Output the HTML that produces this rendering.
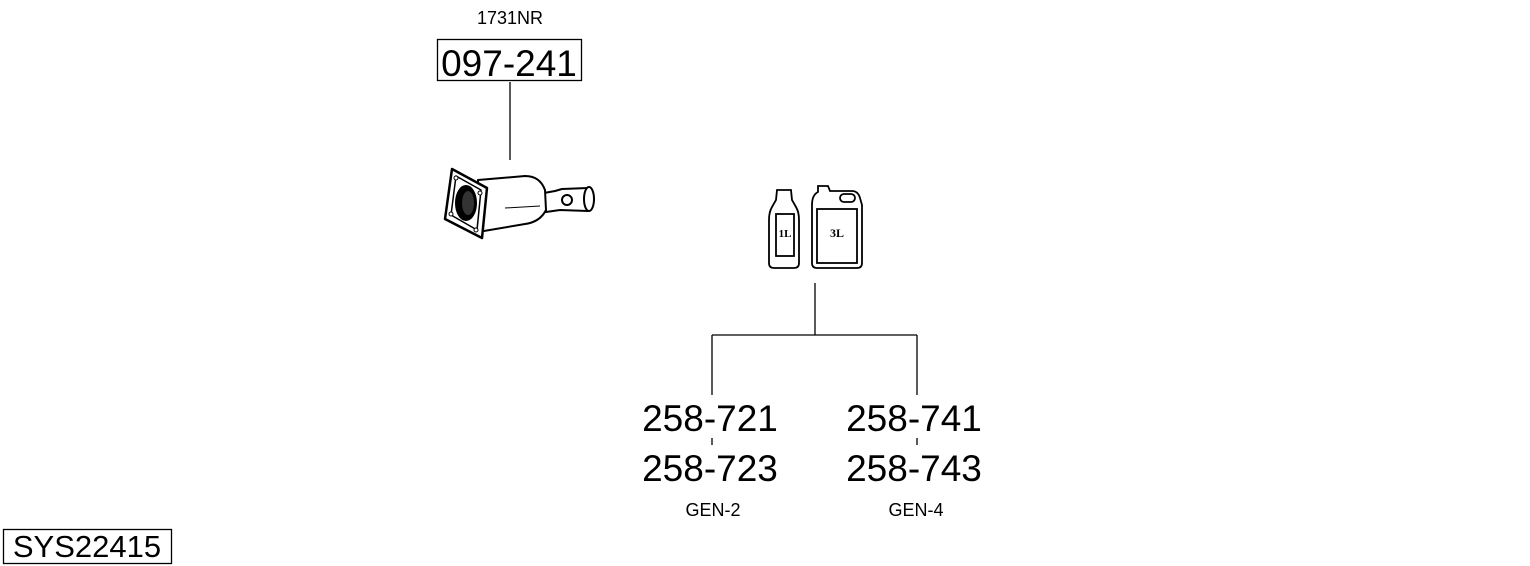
<!DOCTYPE html>
<html><head><style>body{margin:0;background:#fff}svg{display:block}</style></head><body>
<svg width="1530" height="566" viewBox="0 0 1530 566" xmlns="http://www.w3.org/2000/svg" font-family="Liberation Sans, sans-serif">
<text x="510" y="24" font-size="18" text-anchor="middle">1731NR</text>
<rect x="437.5" y="39.5" width="144" height="41" fill="none" stroke="#000" stroke-width="1.3"/>
<text x="509" y="76" font-size="37" text-anchor="middle">097-241</text>
<line x1="510" y1="82" x2="510" y2="160" stroke="#000" stroke-width="1.3"/>
<!-- DPF -->
<g stroke="#000" stroke-width="2" fill="#fff" stroke-linejoin="round">
<path d="M544 193 L555 191 L562 189 L588 188 L592 192 L594 200 L592 208 L588 211 L560 210 L546 212 Z"/>
<ellipse cx="589" cy="199" rx="5" ry="12"/>
<path d="M478 180 L525 176 Q540 176 545 190 L546 210 Q540 222 525 224 L478 232 Z"/>
<circle cx="567" cy="200" r="5"/>
<path d="M452 169 L487 188 L482 238 L445 219 Z" stroke-width="2.5"/>
<path d="M456 176 L481 190 L477 230 L451 215 Z" stroke-width="1.5"/>
<ellipse cx="466" cy="203" rx="10" ry="17" fill="#000"/>
<ellipse cx="468" cy="203" rx="6" ry="12" fill="#333" stroke="none"/>
<circle cx="456" cy="178" r="2" stroke-width="1"/>
<circle cx="480" cy="193" r="2" stroke-width="1"/>
<circle cx="451" cy="214" r="2" stroke-width="1"/>
<circle cx="476" cy="230" r="2" stroke-width="1"/>
<line x1="505" y1="208" x2="540" y2="206" stroke-width="1"/>
</g>
<!-- bottles -->
<g stroke="#000" stroke-width="1.8" fill="#fff">
<path d="M777 190 L791 190 L792 200 L796 207 Q799 212 799 220 L799 263 Q799 268 794 268 L774 268 Q769 268 769 263 L769 220 Q769 212 772 207 L776 200 Z"/>
<rect x="776" y="214" width="18" height="42"/>
<path d="M818 186 L828 186 L830 191 L852 191 Q858 191 860 198 L862 205 L862 263 Q862 268 857 268 L817 268 Q812 268 812 263 L812 205 Q812 195 818 192 Z"/>
<rect x="817" y="209" width="40" height="54"/>
<rect x="840" y="194" width="15" height="8" rx="4"/>
</g>
<text x="785" y="237" font-family="Liberation Serif, serif" font-weight="bold" font-size="11" text-anchor="middle">1L</text>
<text x="837" y="237" font-family="Liberation Serif, serif" font-weight="bold" font-size="12" text-anchor="middle">3L</text>
<g stroke="#000" stroke-width="1.3">
<line x1="815" y1="283" x2="815" y2="335"/>
<line x1="712" y1="335" x2="917" y2="335"/>
<line x1="712" y1="335" x2="712" y2="395"/>
<line x1="917" y1="335" x2="917" y2="395"/>
<line x1="712" y1="438" x2="712" y2="445"/>
<line x1="917" y1="438" x2="917" y2="445"/>
</g>
<g font-size="37" text-anchor="middle">
<text x="710" y="431">258-721</text>
<text x="710" y="481">258-723</text>
<text x="914" y="431">258-741</text>
<text x="914" y="481">258-743</text>
</g>
<text x="713" y="516" font-size="18" text-anchor="middle">GEN-2</text>
<text x="916" y="516" font-size="18" text-anchor="middle">GEN-4</text>
<rect x="3.5" y="529.5" width="168" height="34" fill="none" stroke="#000" stroke-width="1.3"/>
<text x="87" y="557" font-size="31" text-anchor="middle">SYS22415</text>
</svg>
</body></html>
